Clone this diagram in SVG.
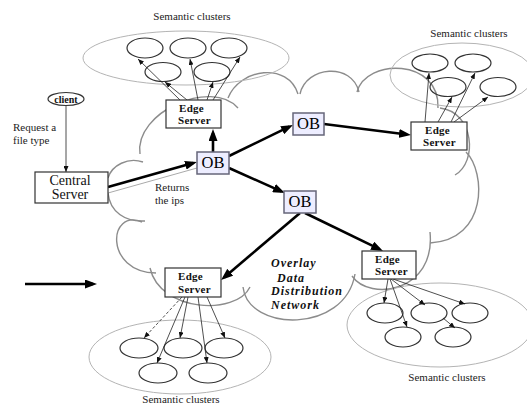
<svg xmlns="http://www.w3.org/2000/svg" width="527" height="405" viewBox="0 0 527 405">
  <style>
    .cloud { fill: none; stroke: #8c8c8c; stroke-width: 1.4; }
    .cluster { fill: none; stroke: #b4b4b4; stroke-width: 1; }
    .item { fill: none; stroke: #333; stroke-width: 1.2; }
    .box { fill: #fff; stroke: #333; stroke-width: 1.2; }
    .ob { fill: #ededff; stroke: #66667a; stroke-width: 1.5; }
    .thick { fill: none; stroke: #000; stroke-width: 2.6; }
    .thin { fill: none; stroke: #222; stroke-width: 0.8; }
    .lbl { font-family: "Liberation Serif", "Times New Roman", serif; font-size: 11px; fill: #222; }
    .es { font-family: "Liberation Serif", "Times New Roman", serif; font-size: 11px; font-weight: bold; fill: #111; letter-spacing: 0.3px; }
    .obt { font-family: "Liberation Serif", "Times New Roman", serif; font-size: 16.5px; fill: #000; text-anchor: middle; }
    .net { font-family: "Liberation Serif", "Times New Roman", serif; font-size: 12px; font-weight: bold; font-style: italic; fill: #111; letter-spacing: 1px; }
  </style>
  <defs>
    <marker id="headThick" viewBox="0 0 12 9" refX="8" refY="4.5" markerWidth="12" markerHeight="9" markerUnits="userSpaceOnUse" orient="auto">
      <path d="M0,0 L12,4.5 L0,9 z" fill="#000"/>
    </marker>
    <marker id="headThin" viewBox="0 0 6 5" refX="6" refY="2.5" markerWidth="6" markerHeight="5" markerUnits="userSpaceOnUse" orient="auto">
      <path d="M0,0 L6,2.5 L0,5 z" fill="#111"/>
    </marker>
  </defs>

  <!-- overlay network cloud -->
  <g id="cloud">
    <path class="cloud" d="M108,178 C112,165 128,157 143,162"/>
    <path class="cloud" d="M140,154 C134,112 212,78 238,108"/>
    <path class="cloud" d="M228,98 C240,68 288,62 298,94"/>
    <path class="cloud" d="M300,94 C306,66 352,62 359,92"/>
    <path class="cloud" d="M357,92 C366,58 440,58 438,108"/>
    <path class="cloud" d="M440,108 C474,112 478,162 455,175"/>
    <path class="cloud" d="M466,152 C486,172 488,240 430,243"/>
    <path class="cloud" d="M430,232 C436,292 370,302 352,276"/>
    <path class="cloud" d="M243,287 C248,332 345,334 355,274"/>
    <path class="cloud" d="M150,268 C160,312 236,316 250,287"/>
    <path class="cloud" d="M142,222 C108,208 104,272 156,273"/>
    <path class="cloud" d="M108,193 C110,212 125,222 145,221"/>
  </g>

  <!-- semantic cluster groups -->
  <g id="cluster-top">
    <ellipse class="cluster" cx="186" cy="58" rx="103" ry="27"/>
    <ellipse class="item" cx="145" cy="48" rx="18" ry="10"/>
    <ellipse class="item" cx="188" cy="48" rx="18" ry="10"/>
    <ellipse class="item" cx="229" cy="48" rx="18" ry="10"/>
    <ellipse class="item" cx="163" cy="72" rx="18" ry="9.5"/>
    <ellipse class="item" cx="212" cy="72" rx="18" ry="9.5"/>
    <text class="lbl" x="192" y="20" text-anchor="middle">Semantic clusters</text>
  </g>
  <g id="cluster-right">
    <ellipse class="cluster" cx="462" cy="75" rx="72" ry="32"/>
    <ellipse class="item" cx="430" cy="63" rx="18" ry="9"/>
    <ellipse class="item" cx="473" cy="63" rx="18" ry="9"/>
    <ellipse class="item" cx="448" cy="87" rx="18" ry="9.5"/>
    <ellipse class="item" cx="498" cy="87" rx="18" ry="9.5"/>
    <text class="lbl" x="469" y="37" text-anchor="middle">Semantic clusters</text>
  </g>
  <g id="cluster-bottom-left">
    <ellipse class="cluster" cx="180" cy="357" rx="91" ry="37"/>
    <ellipse class="item" cx="139" cy="348" rx="19" ry="10"/>
    <ellipse class="item" cx="183" cy="348" rx="19" ry="10"/>
    <ellipse class="item" cx="224" cy="348" rx="19" ry="10"/>
    <ellipse class="item" cx="158" cy="373" rx="19" ry="10"/>
    <ellipse class="item" cx="208" cy="373" rx="19" ry="10"/>
    <text class="lbl" x="181" y="403" text-anchor="middle">Semantic clusters</text>
  </g>
  <g id="cluster-bottom-right">
    <ellipse class="cluster" cx="440" cy="325" rx="93" ry="42"/>
    <ellipse class="item" cx="385" cy="313" rx="18" ry="10"/>
    <ellipse class="item" cx="429" cy="313" rx="18" ry="10"/>
    <ellipse class="item" cx="470" cy="313" rx="18" ry="10"/>
    <ellipse class="item" cx="403" cy="337" rx="18" ry="10"/>
    <ellipse class="item" cx="453" cy="337" rx="18" ry="10"/>
    <text class="lbl" x="447" y="381" text-anchor="middle">Semantic clusters</text>
  </g>

  <!-- connectors -->
  <g id="connectors">
    <line class="thin" x1="66" y1="105" x2="66" y2="172" marker-end="url(#headThin)"/>
    <line x1="108" y1="193" x2="197" y2="168" stroke="#aaa" stroke-width="1"/>
    <line class="thick" x1="108" y1="187" x2="193.1" y2="163.1" marker-end="url(#headThick)"/>
    <line class="thick" x1="213" y1="152" x2="213" y2="133" stroke-width="3" marker-end="url(#headThick)"/>
    <line class="thick" x1="229" y1="156" x2="289.4" y2="126.7" marker-end="url(#headThick)"/>
    <line class="thick" x1="324" y1="124" x2="407" y2="134.5" stroke-width="2.2" marker-end="url(#headThick)"/>
    <line class="thick" x1="229" y1="168" x2="281.3" y2="191.4" stroke-width="3" marker-end="url(#headThick)"/>
    <line class="thick" x1="300" y1="213" x2="224.1" y2="277.4" marker-end="url(#headThick)"/>
    <line class="thick" x1="305" y1="213" x2="379.4" y2="249.2" marker-end="url(#headThick)"/>
    <line class="thick" x1="25" y1="284" x2="93" y2="284" stroke-width="3.2" marker-end="url(#headThick)"/>

    <line class="thin" x1="180" y1="100" x2="138" y2="59" marker-end="url(#headThin)"/>
    <line class="thin" x1="187" y1="100" x2="165" y2="82" marker-end="url(#headThin)"/>
    <line class="thin" x1="198" y1="100" x2="190" y2="59" marker-end="url(#headThin)"/>
    <line class="thin" x1="207" y1="100" x2="213" y2="82" marker-end="url(#headThin)"/>
    <line class="thin" x1="213" y1="100" x2="240" y2="57" marker-end="url(#headThin)"/>

    <line class="thin" x1="425" y1="122" x2="429" y2="73" marker-end="url(#headThin)"/>
    <line class="thin" x1="438" y1="122" x2="452" y2="97" marker-end="url(#headThin)"/>
    <line class="thin" x1="451" y1="122" x2="475" y2="73" marker-end="url(#headThin)"/>
    <line class="thin" x1="454" y1="122" x2="488" y2="97" marker-end="url(#headThin)"/>

    <line class="thin" x1="182" y1="297" x2="144" y2="338" stroke-dasharray="3,2" marker-end="url(#headThin)"/>
    <line class="thin" x1="185" y1="297" x2="157" y2="363" marker-end="url(#headThin)"/>
    <line class="thin" x1="188" y1="297" x2="180" y2="338" marker-end="url(#headThin)"/>
    <line class="thin" x1="198" y1="297" x2="207" y2="363" marker-end="url(#headThin)"/>
    <line class="thin" x1="207" y1="297" x2="225" y2="338" marker-end="url(#headThin)"/>

    <line class="thin" x1="388" y1="279" x2="384" y2="303" marker-end="url(#headThin)"/>
    <line class="thin" x1="390" y1="279" x2="407" y2="327" marker-end="url(#headThin)"/>
    <line class="thin" x1="391" y1="279" x2="425" y2="305" stroke-width="1.4" marker-end="url(#headThin)"/>
    <line class="thin" x1="393" y1="279" x2="465" y2="304" marker-end="url(#headThin)"/>
    <line class="thin" x1="443" y1="318" x2="455" y2="328" marker-end="url(#headThin)"/>
  </g>

  <!-- nodes -->
  <g id="client">
    <ellipse cx="66" cy="99" rx="18" ry="6.5" fill="#fff" stroke="#333" stroke-width="1.2"/>
    <text x="66" y="102.5" text-anchor="middle" font-family="Liberation Serif, serif" font-size="10" font-weight="bold" fill="#111">client</text>
    <text class="lbl" x="13" y="131">Request a</text>
    <text class="lbl" x="13" y="144">file type</text>
  </g>
  <g id="central-server">
    <rect class="box" x="35" y="172" width="73" height="31"/>
    <text x="70" y="185" text-anchor="middle" font-family="Liberation Serif, serif" font-size="14" fill="#111">Central</text>
    <text x="70" y="199" text-anchor="middle" font-family="Liberation Serif, serif" font-size="14" fill="#111">Server</text>
  </g>
  <g id="returns-label">
    <text class="lbl" x="155" y="191">Returns</text>
    <text class="lbl" x="155" y="204">the ips</text>
  </g>
  <g id="ob-center">
    <rect class="ob" x="197" y="152" width="32" height="22"/>
    <text class="obt" x="213" y="168">OB</text>
  </g>
  <g id="ob-upper">
    <rect class="ob" x="293" y="113" width="31" height="22"/>
    <text class="obt" x="308.5" y="129">OB</text>
  </g>
  <g id="ob-lower">
    <rect class="ob" x="284" y="191" width="32" height="22"/>
    <text class="obt" x="300" y="207">OB</text>
  </g>
  <g id="edge-top">
    <rect class="box" x="166" y="100" width="55" height="28"/>
    <text class="es" x="179" y="112">Edge</text>
    <text class="es" x="178" y="124">Server</text>
  </g>
  <g id="edge-right">
    <rect class="box" x="411" y="122" width="56" height="28"/>
    <text class="es" x="425" y="134">Edge</text>
    <text class="es" x="423" y="146">Server</text>
  </g>
  <g id="edge-bottom-left">
    <rect class="box" x="165" y="268" width="56" height="29"/>
    <text class="es" x="178" y="280">Edge</text>
    <text class="es" x="178" y="293">Server</text>
  </g>
  <g id="edge-bottom-right">
    <rect class="box" x="362" y="251" width="54" height="28"/>
    <text class="es" x="375" y="263">Edge</text>
    <text class="es" x="375" y="275">Server</text>
  </g>
  <g id="network-label">
    <text class="net" x="271" y="267">Overlay</text>
    <text class="net" x="277" y="282">Data</text>
    <text class="net" x="271" y="295">Distribution</text>
    <text class="net" x="271" y="309">Network</text>
  </g>
</svg>
